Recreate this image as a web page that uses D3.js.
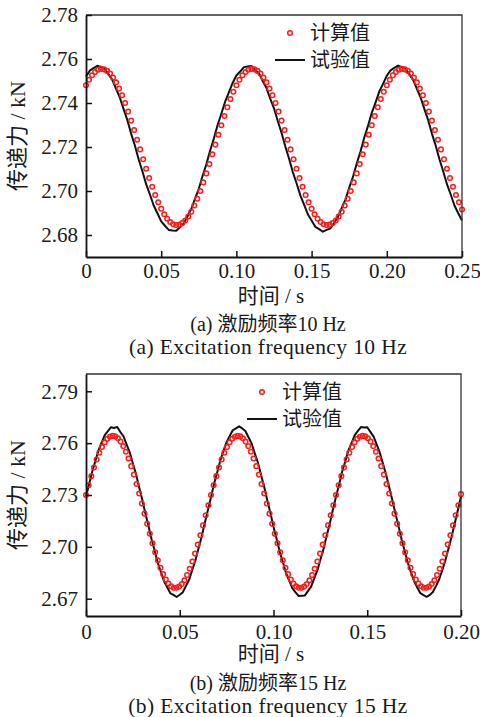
<!DOCTYPE html>
<html>
<head>
<meta charset="utf-8">
<script src="https://cdn.jsdelivr.net/npm/d3@7"></script>
<style>
  body { margin: 0; background: #fff; }
  text { fill: #1a1a1a; }
</style>
</head>
<body>
<div id="chart"></div>
<script>
// (a) 10 Hz -- computed values, sampled every 0.002 s
var calcA = [
  2.7481, 2.7506, 2.7526, 2.7541, 2.7551, 2.7555, 2.7553, 2.7546, 2.7534, 2.7516,
  2.7494, 2.7466, 2.7435, 2.7400, 2.7361, 2.7320, 2.7277, 2.7233, 2.7189, 2.7144,
  2.7101, 2.7059, 2.7019, 2.6982, 2.6949, 2.6919, 2.6894, 2.6874, 2.6859, 2.6849,
  2.6845, 2.6847, 2.6854, 2.6866, 2.6884, 2.6906, 2.6934, 2.6965, 2.7000, 2.7039,
  2.7080, 2.7123, 2.7167, 2.7211, 2.7256, 2.7299, 2.7341, 2.7381, 2.7418, 2.7451,
  2.7481, 2.7506, 2.7526, 2.7541, 2.7551, 2.7555, 2.7553, 2.7546, 2.7534, 2.7516,
  2.7494, 2.7466, 2.7435, 2.7400, 2.7361, 2.7320, 2.7277, 2.7233, 2.7189, 2.7144,
  2.7101, 2.7059, 2.7019, 2.6982, 2.6949, 2.6919, 2.6894, 2.6874, 2.6859, 2.6849,
  2.6845, 2.6847, 2.6854, 2.6866, 2.6884, 2.6906, 2.6934, 2.6965, 2.7000, 2.7039,
  2.7080, 2.7123, 2.7167, 2.7211, 2.7256, 2.7299, 2.7341, 2.7381, 2.7418, 2.7451,
  2.7481, 2.7506, 2.7526, 2.7541, 2.7551, 2.7555, 2.7553, 2.7546, 2.7534, 2.7516,
  2.7494, 2.7466, 2.7435, 2.7400, 2.7361, 2.7320, 2.7277, 2.7233, 2.7189, 2.7144,
  2.7101, 2.7059, 2.7019, 2.6982, 2.6949, 2.6916
];
// (a) 10 Hz -- test values, every 0.0025 s
var testA = [
  2.7520, 2.7547, 2.7559, 2.7569, 2.7564, 2.7555, 2.7530, 2.7505, 2.7464, 2.7425,
  2.7372, 2.7322, 2.7261, 2.7207, 2.7144, 2.7090, 2.7031, 2.6984, 2.6934, 2.6899,
  2.6862, 2.6842, 2.6823, 2.6820, 2.6819, 2.6835, 2.6852, 2.6885, 2.6918, 2.6965,
  2.7010, 2.7068, 2.7121, 2.7183, 2.7238, 2.7300, 2.7351, 2.7406, 2.7448, 2.7491,
  2.7525, 2.7543, 2.7563, 2.7566, 2.7568, 2.7550, 2.7535, 2.7500, 2.7468, 2.7420,
  2.7376, 2.7318, 2.7265, 2.7203, 2.7148, 2.7086, 2.7035, 2.6980, 2.6938, 2.6894,
  2.6866, 2.6837, 2.6827, 2.6815, 2.6823, 2.6830, 2.6856, 2.6881, 2.6922, 2.6961,
  2.7014, 2.7064, 2.7125, 2.7179, 2.7242, 2.7296, 2.7355, 2.7402, 2.7452, 2.7487,
  2.7524, 2.7548, 2.7560, 2.7570, 2.7563, 2.7555, 2.7530, 2.7505, 2.7464, 2.7425,
  2.7372, 2.7322, 2.7261, 2.7207, 2.7144, 2.7090, 2.7031, 2.6984, 2.6934, 2.6899,
  2.6866
];
// (b) 15 Hz -- computed values, every 1/705 s
var calcB = [
  2.7300, 2.7356, 2.7409, 2.7459, 2.7505, 2.7544, 2.7578, 2.7605, 2.7625, 2.7637,
  2.7642, 2.7639, 2.7628, 2.7609, 2.7583, 2.7550, 2.7511, 2.7467, 2.7418, 2.7364,
  2.7309, 2.7251, 2.7192, 2.7133, 2.7076, 2.7021, 2.6969, 2.6922, 2.6879, 2.6842,
  2.6811, 2.6788, 2.6772, 2.6763, 2.6763, 2.6770, 2.6785, 2.6807, 2.6837, 2.6873,
  2.6915, 2.6961, 2.7013, 2.7067, 2.7124, 2.7183, 2.7241,
  2.7300, 2.7356, 2.7409, 2.7459, 2.7505, 2.7544, 2.7578, 2.7605, 2.7625, 2.7637,
  2.7642, 2.7639, 2.7628, 2.7609, 2.7583, 2.7550, 2.7511, 2.7467, 2.7418, 2.7364,
  2.7309, 2.7251, 2.7192, 2.7133, 2.7076, 2.7021, 2.6969, 2.6922, 2.6879, 2.6842,
  2.6811, 2.6788, 2.6772, 2.6763, 2.6763, 2.6770, 2.6785, 2.6807, 2.6837, 2.6873,
  2.6915, 2.6961, 2.7013, 2.7067, 2.7124, 2.7183, 2.7241,
  2.7300, 2.7356, 2.7409, 2.7459, 2.7505, 2.7544, 2.7578, 2.7605, 2.7625, 2.7637,
  2.7642, 2.7639, 2.7628, 2.7609, 2.7583, 2.7550, 2.7511, 2.7467, 2.7418, 2.7364,
  2.7309, 2.7251, 2.7192, 2.7133, 2.7076, 2.7021, 2.6969, 2.6922, 2.6879, 2.6842,
  2.6811, 2.6788, 2.6772, 2.6763, 2.6763, 2.6770, 2.6785, 2.6807, 2.6837, 2.6873,
  2.6915, 2.6961, 2.7013, 2.7067, 2.7124, 2.7183, 2.7241,
  2.7305
];
// (b) 15 Hz -- test values, every 1/600 s
var testB = [
  2.7291, 2.7362, 2.7436, 2.7497, 2.7559, 2.7603, 2.7647, 2.7670, 2.7692, 2.7688,
  2.7694, 2.7664, 2.7640, 2.7592, 2.7547, 2.7482, 2.7421, 2.7345, 2.7274, 2.7193,
  2.7121, 2.7042, 2.6976, 2.6906, 2.6853, 2.6800, 2.6766, 2.6731, 2.6722, 2.6710,
  2.6723, 2.6738, 2.6774, 2.6810, 2.6866, 2.6921, 2.6991, 2.7059, 2.7138, 2.7211,
  2.7287, 2.7366, 2.7432, 2.7501, 2.7555, 2.7607, 2.7641, 2.7676, 2.7686, 2.7697,
  2.7685, 2.7670, 2.7634, 2.7598, 2.7541, 2.7488, 2.7417, 2.7349, 2.7270, 2.7197,
  2.7117, 2.7046, 2.6972, 2.6912, 2.6849, 2.6806, 2.6761, 2.6738, 2.6716, 2.6717,
  2.6718, 2.6744, 2.6768, 2.6816, 2.6862, 2.6925, 2.6987, 2.7063, 2.7134, 2.7215,
  2.7290, 2.7361, 2.7437, 2.7496, 2.7560, 2.7602, 2.7646, 2.7671, 2.7693, 2.7690,
  2.7692, 2.7665, 2.7639, 2.7593, 2.7546, 2.7483, 2.7420, 2.7346, 2.7273, 2.7194,
  2.7120, 2.7043, 2.6975, 2.6907, 2.6852, 2.6801, 2.6765, 2.6732, 2.6721, 2.6711,
  2.6722, 2.6739, 2.6773, 2.6811, 2.6865, 2.6922, 2.6990, 2.7060, 2.7137, 2.7212,
  2.7292
];

var xTicksA = [0, 0.05, 0.10, 0.15, 0.20, 0.25];
var yTicksA = [2.68, 2.70, 2.72, 2.74, 2.76, 2.78];
var xTicksB = [0, 0.05, 0.10, 0.15, 0.20];
var yTicksB = [2.67, 2.70, 2.73, 2.76, 2.79];

var legendLabels = ["计算值", "试验值"];
var yTitle = "传递力 / kN";
var xTitle = "时间 / s";

var serif = "'Liberation Serif', 'Times New Roman', 'Noto Sans CJK SC', serif";

var svg = d3.select("#chart").append("svg")
  .attr("width", 480)
  .attr("height", 717);

function drawPanel(p) {
  var x = d3.scaleLinear().domain(p.xDomain).range([p.left, p.right]);
  var y = d3.scaleLinear().domain(p.yDomain).range([p.bottom, p.top]);
  var g = svg.append("g");

  // test line
  var line = d3.line()
    .x(function(d, i) { return x(i * p.testStep); })
    .y(function(d) { return y(d); });
  g.append("path")
    .datum(p.test)
    .attr("d", line)
    .attr("fill", "none")
    .attr("stroke", "#111")
    .attr("stroke-width", 2)
    .attr("stroke-linejoin", "round");

  // computed circles
  g.selectAll("circle.calc")
    .data(p.calc)
    .enter()
    .append("circle")
    .attr("class", "calc")
    .attr("cx", function(d, i) { return x(i * p.calcStep); })
    .attr("cy", function(d) { return y(d); })
    .attr("r", 2.3)
    .attr("fill", "none")
    .attr("stroke", "#ff1a1a")
    .attr("stroke-width", 1.5);

  // frame top / right
  g.append("path")
    .attr("d", "M" + p.left + "," + p.top + "H" + p.right + "V" + p.bottom)
    .attr("fill", "none")
    .attr("stroke", "#333")
    .attr("stroke-width", 1.3);

  var fmt = function(d) { return d === 0 ? "0" : d3.format(".2f")(d); };

  var xAxis = g.append("g")
    .attr("transform", "translate(0," + p.bottom + ")")
    .call(d3.axisBottom(x).tickValues(p.xTicks).tickFormat(fmt)
      .tickSizeInner(-6).tickSizeOuter(0).tickPadding(p.xPad));
  var yAxis = g.append("g")
    .attr("transform", "translate(" + p.left + ",0)")
    .call(d3.axisLeft(y).tickValues(p.yTicks).tickFormat(d3.format(".2f"))
      .tickSizeInner(-6).tickSizeOuter(0).tickPadding(8));

  [xAxis, yAxis].forEach(function(a) {
    a.attr("font-family", serif);
    a.select(".domain").attr("stroke", "#111").attr("stroke-width", 1.8);
    a.selectAll(".tick line").attr("stroke", "#111").attr("stroke-width", 1.5);
    a.selectAll(".tick text")
      .attr("font-family", serif)
      .attr("font-size", 21)
      .attr("fill", "#1a1a1a");
  });

  // legend
  g.append("circle")
    .attr("cx", p.legX + 15).attr("cy", p.legY)
    .attr("r", 2.3).attr("fill", "none")
    .attr("stroke", "#ff1a1a").attr("stroke-width", 1.5);
  g.append("line")
    .attr("x1", p.legX).attr("x2", p.legX + 30)
    .attr("y1", p.legY + 27).attr("y2", p.legY + 27)
    .attr("stroke", "#111").attr("stroke-width", 2);
  legendLabels.forEach(function(t, i) {
    g.append("text")
      .attr("x", p.legX + 35)
      .attr("y", p.legY + i * 27)
      .attr("dy", "0.35em")
      .attr("font-family", serif)
      .attr("font-size", 20)
      .text(t);
  });

  // axis titles
  g.append("text")
    .attr("transform", "translate(" + 17 + "," + ((p.top + p.bottom) / 2) + ") rotate(-90)")
    .attr("text-anchor", "middle")
    .attr("dy", "0.35em")
    .attr("font-family", serif)
    .attr("font-size", 22)
    .text(yTitle);
  g.append("text")
    .attr("x", 271).attr("y", p.xTitleY)
    .attr("text-anchor", "middle")
    .attr("font-family", serif)
    .attr("font-size", 21)
    .text(xTitle);

  g.append("text")
    .attr("x", 268).attr("y", p.capY)
    .attr("text-anchor", "middle")
    .attr("font-family", serif)
    .attr("font-size", 20)
    .text(p.captions[0]);
  g.append("text")
    .attr("x", 268).attr("y", p.capY + 23)
    .attr("text-anchor", "middle")
    .attr("font-family", serif)
    .attr("font-size", 21.5)
    .attr("letter-spacing", 0.4)
    .text(p.captions[1]);
}

drawPanel({
  left: 86, right: 462, top: 15, bottom: 257,
  xDomain: [0, 0.25], yDomain: [2.67, 2.78],
  xTicks: xTicksA, yTicks: yTicksA, xPad: 6,
  calc: calcA, calcStep: 0.002,
  test: testA, testStep: 0.0025,
  legX: 275, legY: 33,
  xTitleY: 303, capY: 331,
  captions: ["(a) 激励频率10 Hz", "(a) Excitation frequency 10 Hz"]
});

drawPanel({
  left: 86, right: 461, top: 374, bottom: 616,
  xDomain: [0, 0.20], yDomain: [2.66, 2.80],
  xTicks: xTicksB, yTicks: yTicksB, xPad: 8,
  calc: calcB, calcStep: 1 / 705,
  test: testB, testStep: 1 / 600,
  legX: 247, legY: 392,
  xTitleY: 661, capY: 690,
  captions: ["(b) 激励频率15 Hz", "(b) Excitation frequency 15 Hz"]
});
</script>
</body>
</html>
